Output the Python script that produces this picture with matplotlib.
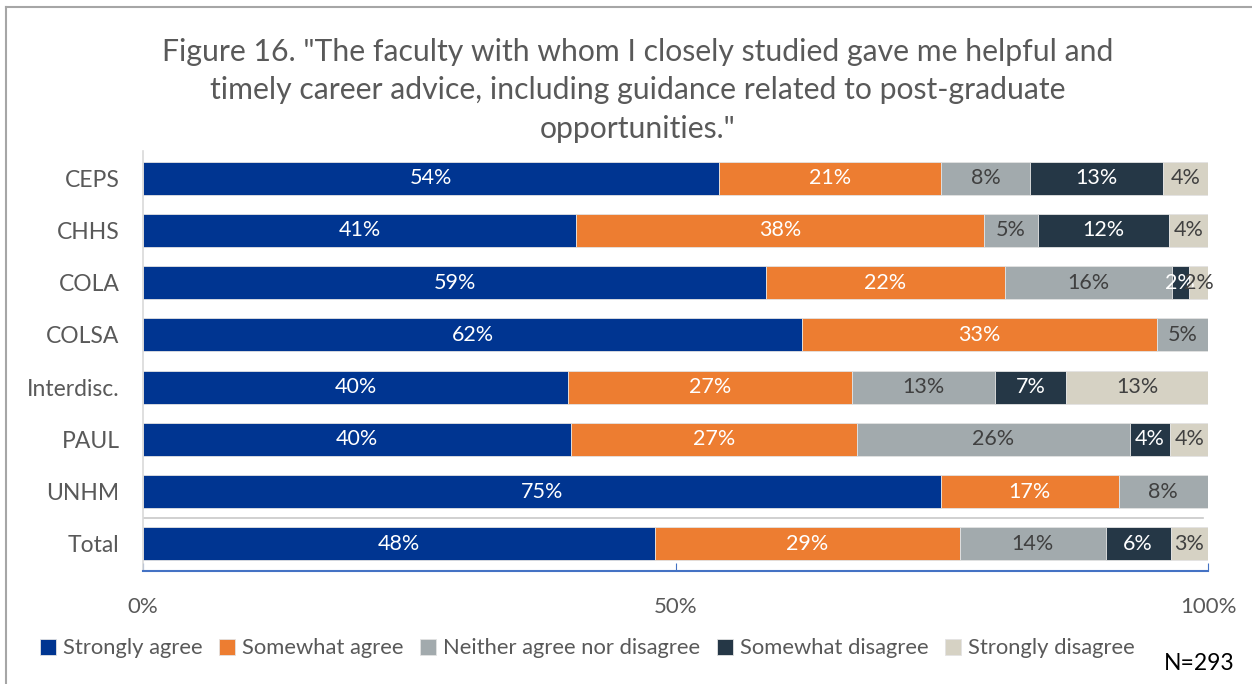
import numpy as np
import matplotlib.pyplot as plt

plt.rcParams['font.family'] = ['Lato', 'DejaVu Sans']

categories = ['CEPS', 'CHHS', 'COLA', 'COLSA', 'Interdisc.', 'PAUL', 'UNHM', 'Total']
series = ['Strongly agree', 'Somewhat agree', 'Neither agree nor disagree',
          'Somewhat disagree', 'Strongly disagree']

# shares (percent)
strongly_agree = [54.1, 40.7, 58.5, 61.9, 39.9, 40.2, 74.9, 48.1]
somewhat_agree = [20.8, 38.3, 22.4, 33.3, 26.7, 26.8, 16.7, 28.6]
neither = [8.4, 5.0, 15.7, 4.8, 13.4, 25.7, 8.4, 13.7]
somewhat_disagree = [12.5, 12.3, 1.6, 0.0, 6.7, 3.7, 0.0, 6.1]
strongly_disagree = [4.2, 3.8, 1.8, 0.0, 13.3, 3.7, 0.0, 3.5]

# printed labels
labels = [
    ['54%', '41%', '59%', '62%', '40%', '40%', '75%', '48%'],
    ['21%', '38%', '22%', '33%', '27%', '27%', '17%', '29%'],
    ['8%', '5%', '16%', '5%', '13%', '26%', '8%', '14%'],
    ['13%', '12%', '2%', '', '7%', '4%', '', '6%'],
    ['4%', '4%', '2%', '', '13%', '4%', '', '3%'],
]

colors = ['#003591', '#ED7D31', '#A2AAAD', '#253746', '#D6D2C4']
text_colors = ['white', 'white', '#404040', 'white', '#404040']

values = [strongly_agree, somewhat_agree, neither, somewhat_disagree, strongly_disagree]

fig = plt.figure(figsize=(12.52, 6.84), dpi=100)
ax = fig.add_axes([143 / 1252, 113 / 684, 1065 / 1252, 420 / 684])

y = np.arange(len(categories))
left = np.zeros(len(categories))
handles = []
for vals, lab, col, tcol, name in zip(values, labels, colors, text_colors, series):
    vals = np.array(vals)
    bars = ax.barh(y, vals, left=left, height=0.63, color=col,
                   edgecolor='#e3e3e3', linewidth=0.6, label=name)
    handles.append(bars)
    for yi, v, l0, t in zip(y, vals, left, lab):
        if t:
            ax.text(l0 + v / 2, yi, t, ha='center', va='center',
                    color=tcol, fontsize=15.5)
    left += vals

ax.set_xlim(0, 100)
ax.set_ylim(len(categories) - 0.48, -0.52)
ax.set_yticks(y)
ax.set_yticklabels(categories, fontsize=16.5, color='#595959')
ax.set_xticks([0, 50, 100])
ax.set_xticklabels(['0%', '50%', '100%'], fontsize=16, color='#595959')
ax.tick_params(axis='y', length=0, pad=17)
ax.tick_params(axis='x', direction='in', length=6, color='#4472C4', pad=19)

for s in ['top', 'right']:
    ax.spines[s].set_visible(False)
ax.spines['left'].set_color('#d9d9d9')
ax.spines['left'].set_linewidth(1.2)
ax.spines['bottom'].set_color('#4472C4')
ax.spines['bottom'].set_linewidth(1.5)

# separator above the Total row
ax.axhline(6.5, xmin=0, xmax=0.995, color='#c8c8c8', linewidth=1.2)

fig.text(0.509, 0.944,
         'Figure 16. "The faculty with whom I closely studied gave me helpful and\n'
         'timely career advice, including guidance related to post-graduate\n'
         'opportunities."',
         ha='center', va='top', fontsize=21.7, color='#595959', linespacing=1.44)

fig.legend(handles=handles, loc='center', bbox_to_anchor=(0.469, 0.052),
           ncol=5, frameon=False, fontsize=15.8, handlelength=0.75, handleheight=0.75,
           handletextpad=0.3, columnspacing=0.75, labelcolor='#595959')

fig.text(0.986, 0.03, 'N=293', ha='right', va='center', fontsize=16.5, color='black')

# slide frame
fig.add_artist(plt.Line2D([6 / 1252, 6 / 1252], [0, 1 - 7 / 684],
                          transform=fig.transFigure, color='#a6a6a6', linewidth=1.5))
fig.add_artist(plt.Line2D([6 / 1252, 1], [1 - 7 / 684, 1 - 7 / 684],
                          transform=fig.transFigure, color='#a6a6a6', linewidth=1.5))

fig.savefig('out.png', dpi=100)
